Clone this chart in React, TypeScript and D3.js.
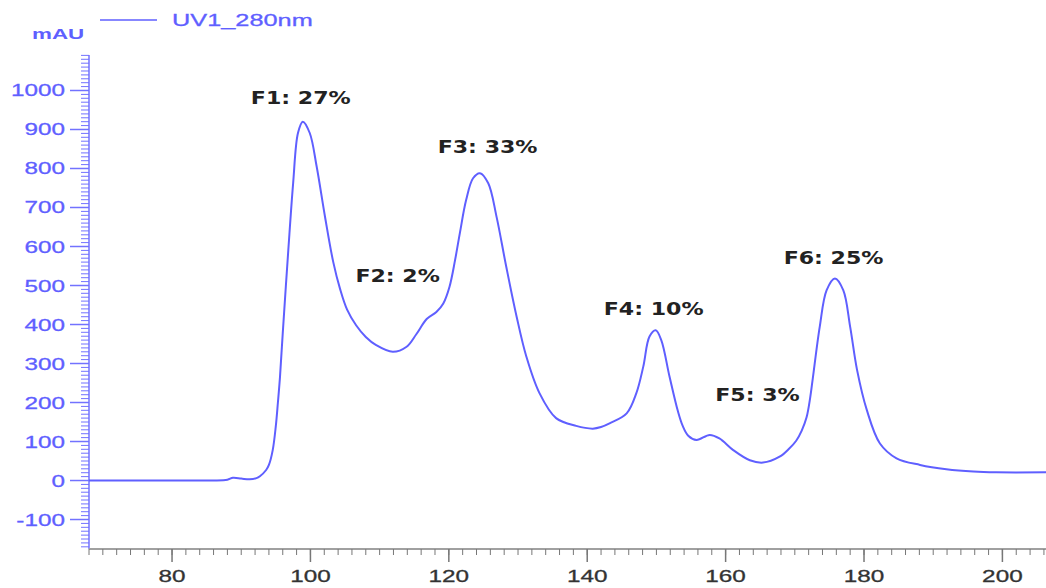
import React from "react";
import * as d3 from "d3";

const retentionTime = [68, 75, 82, 86, 88, 88.8, 90, 91.2, 92.2, 92.7, 93.6, 94.0, 94.55, 95.0, 95.3, 95.6, 96.0, 96.8, 97.5, 98.2, 98.9, 99.9, 100.9, 102.1, 103.3, 104.3, 105.3, 106.6, 108.0, 109.5, 111.9, 113.9, 115.3, 116.8, 118.2, 119.2, 120.1, 120.9, 121.6, 122.5, 123.5, 124.5, 125.7, 126.9, 128.3, 129.8, 131.2, 133.1, 135.5, 138.4, 140.8, 142.0, 143.3, 145.7, 147.1, 148.1, 149.0, 149.9, 150.7, 151.9, 153.1, 153.8, 154.6, 155.8, 157.7, 159.1, 161.1, 163.5, 165.4, 167.8, 169.2, 170.2, 171.0, 171.7, 172.2, 172.6, 173.6, 174.6, 175.8, 177.0, 178.0, 179.0, 180.4, 182.3, 184.7, 188.1, 191.9, 195.8, 199.1, 206.3];
const absorbance = [0, 0, 0, 0, 2, 7, 5, 3, 6, 11, 27, 40, 78, 140, 200, 265, 378, 590, 762, 891, 920, 891, 805, 677, 560, 490, 438, 398, 368, 347, 330, 343, 375, 414, 432, 454, 497, 565, 635, 719, 775, 788, 762, 676, 548, 420, 318, 224, 160, 140, 133, 137, 147, 172, 224, 292, 369, 385, 360, 266, 178, 140, 115, 104, 117, 108, 78, 52, 46, 61, 82, 102, 128, 162, 210, 262, 394, 488, 518, 488, 394, 283, 181, 95, 57, 40, 29, 23, 21, 21];

const xMajorTicks = [80, 100, 120, 140, 160, 180, 200];
const yMajorTicks = [-100, 0, 100, 200, 300, 400, 500, 600, 700, 800, 900, 1000];

const peakLabels = ["F1: 27%", "F2: 2%", "F3: 33%", "F4: 10%", "F5: 3%", "F6: 25%"];
const peakLabelX = [98.6, 112.6, 125.6, 149.6, 164.6, 175.6];
const peakLabelY = [965, 510, 840, 425, 205, 555];

const seriesName = "UV1_280nm";
const yUnit = "mAU";

const W = 1046;
const H = 588;
const left = 89;
const bottom = 549;
const top = 55;

export default function App() {
  const x = d3.scaleLinear().domain([68, 206.3]).range([left, W]);
  const y = d3.scaleLinear().domain([-175.6, 1091]).range([bottom, top]);

  const pts = retentionTime.map((t, i) => [t, absorbance[i]] as [number, number]);
  const line = d3
    .line<[number, number]>()
    .x((d) => x(d[0]))
    .y((d) => y(d[1]))
    .curve(d3.curveCatmullRom.alpha(0.5));

  const blue = "#5f5fff";
  const axisBlue = "#7272ff";
  const xMinor = d3.range(68, 207, 2);
  const yMinor = d3.range(-170, 1091, 10);

  return (
    <div style={{ position: "absolute", left: 0, top: 0 }}>
      <svg width={W} height={H} style={{ display: "block", background: "#fff" }}>
        <defs>
          <clipPath id="plot">
            <rect x={left} y={top} width={W - left} height={bottom - top} />
          </clipPath>
        </defs>
        {/* legend */}
        <line x1={100} x2={157} y1={20} y2={20} stroke={blue} strokeWidth={1.5} />
        <text
          transform={`translate(172,26) scale(1.49,1)`}
          fontFamily="Liberation Sans, Arial, sans-serif"
          fontSize={17}
          fill={blue}
          stroke={blue}
          strokeWidth={0.3}
        >
          {seriesName}
        </text>
        <text
          transform={`translate(32,39) scale(1.6,1)`}
          fontFamily="Liberation Sans, Arial, sans-serif"
          fontSize={14}
          fontWeight="bold"
          fill={blue}
        >
          {yUnit}
        </text>

        {/* y axis */}
        <line x1={left} x2={left} y1={top} y2={bottom} stroke={axisBlue} strokeWidth={1.5} />
        {yMinor.map((v) => (
          <line key={"ym" + v} x1={left - 8} x2={left} y1={y(v)} y2={y(v)} stroke={axisBlue} strokeWidth={1} />
        ))}
        {yMajorTicks.map((v) => (
          <g key={"y" + v}>
            <line x1={left - 19} x2={left} y1={y(v)} y2={y(v)} stroke={axisBlue} strokeWidth={1.5} />
            <text
              transform={`translate(65,${y(v) + 6}) scale(1.43,1)`}
              textAnchor="end"
              fontFamily="Liberation Sans, Arial, sans-serif"
              fontSize={17}
              fill={blue}
              stroke={blue}
              strokeWidth={0.3}
            >
              {v}
            </text>
          </g>
        ))}

        {/* x axis */}
        <line x1={left} x2={W} y1={bottom} y2={bottom} stroke="#a0a0a0" strokeWidth={2} />
        {xMinor.map((v) => (
          <line key={"xm" + v} x1={x(v)} x2={x(v)} y1={bottom} y2={bottom + 6} stroke="#777" strokeWidth={1} />
        ))}
        {xMajorTicks.map((v) => (
          <g key={"x" + v}>
            <line x1={x(v)} x2={x(v)} y1={bottom} y2={bottom + 13} stroke="#777" strokeWidth={1.5} />
            <text
              transform={`translate(${x(v)},582) scale(1.43,1)`}
              textAnchor="middle"
              fontFamily="Liberation Sans, Arial, sans-serif"
              fontSize={17}
              fill="#333"
              stroke="#333"
              strokeWidth={0.3}
            >
              {v}
            </text>
          </g>
        ))}

        {/* curve */}
        <path d={line(pts) || ""} fill="none" stroke={blue} strokeWidth={2} clipPath="url(#plot)" />

        {/* peak labels */}
        {peakLabels.map((s, i) => (
          <text
            key={s}
            transform={`translate(${x(peakLabelX[i])},${y(peakLabelY[i])}) scale(1.3,1)`}
            textAnchor="middle"
            fontFamily="DejaVu Sans, Verdana, sans-serif"
            fontWeight="bold"
            fontSize={17}
            fill="#222"
          >
            {s}
          </text>
        ))}
      </svg>
    </div>
  );
}
